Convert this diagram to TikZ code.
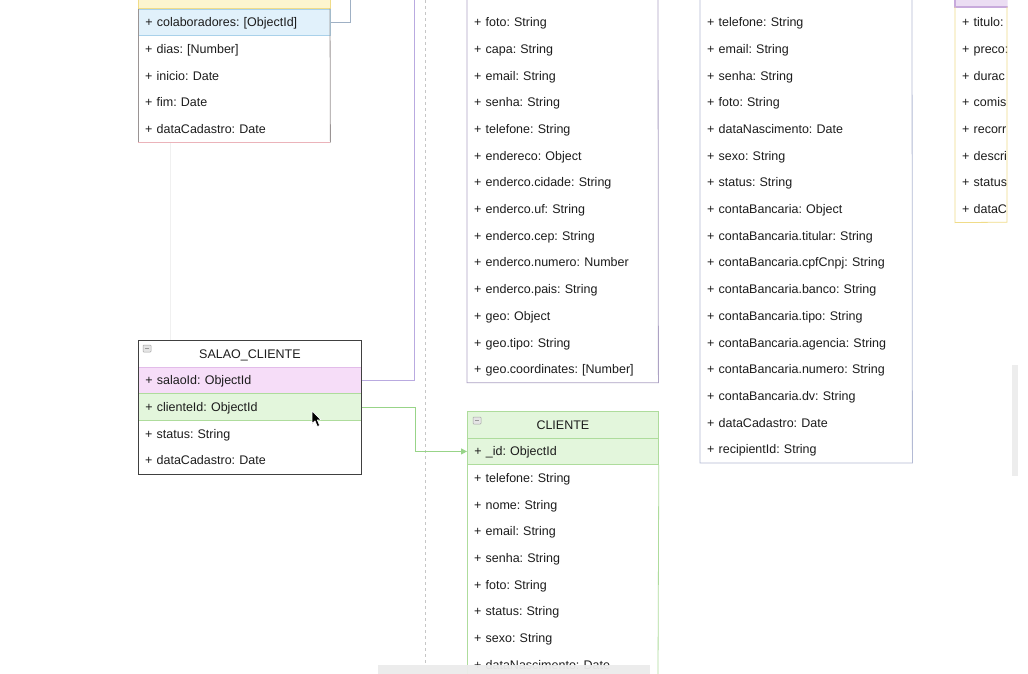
\documentclass[tikz,border=0pt]{standalone}
\usepackage{fontspec}
\setmainfont{Liberation Sans}
\frenchspacing
\usetikzlibrary{arrows.meta}
\definecolor{txt}{HTML}{1C1C1C}
\definecolor{horside}{HTML}{9A9494}
\definecolor{horbottom}{HTML}{EBB3BA}
\definecolor{bluefill}{HTML}{E1F1FB}
\definecolor{blueline}{HTML}{A9D1EA}
\definecolor{yellowfill}{HTML}{FDF5CF}
\definecolor{yellowline}{HTML}{F0DC88}
\definecolor{salaoline}{HTML}{ADA2C4}
\definecolor{colabline}{HTML}{B3BAD4}
\definecolor{lilacfill}{HTML}{EBDDF3}
\definecolor{lilacline}{HTML}{C8AADC}
\definecolor{pinkfill}{HTML}{F6DDF8}
\definecolor{pinkline}{HTML}{E2BCE9}
\definecolor{greenfill}{HTML}{E3F6DC}
\definecolor{greenline}{HTML}{AEDC9C}
\definecolor{purpleconn}{HTML}{B9AAE0}
\definecolor{greenconn}{HTML}{98D488}
\definecolor{blueconn}{HTML}{9FB0C4}
\tikzset{
  field/.style={anchor=north west, inner xsep=7pt, inner ysep=0pt, minimum height=26.7pt,
    text height=10.5pt, text depth=1.5pt, align=left, text=txt, font=\fontsize{12.5}{14}\selectfont},
  title/.style={field, align=center},
  frame/.style={line width=0.8pt},
  minusbox/.style={draw=gray!70, fill=gray!20, line width=0.5pt, rounded corners=0.8pt},
  conn/.style={line width=1pt}
}
\begin{document}
\begin{tikzpicture}[x=1pt, y=-1pt]
   \useasboundingbox (0,0) rectangle (1028,674);
   \clip (0,0) rectangle (1028,674);
   \fill[white] (0,0) rectangle (1028,674);
   \draw[gray!12, line width=0.6pt] (170,142) -- (170,340);
   \draw[gray!45, dashed, dash pattern=on 3pt off 3pt, line width=0.6pt] (425,0) -- (425,664);
   \fill[gray!14] (1012,365) rectangle (1018,476);

   \filldraw[fill=yellowfill, draw=yellowline, frame] (138,-10) rectangle (330,8.6);
   \node[field, text width=178pt, fill=bluefill, draw=blueline, frame] (hor1) at (138,8.6) {+ colaboradores: [ObjectId]};
   \foreach \f [count=\i from 2] in {+ dias: [Number], + inicio: Date, + fim: Date, + dataCadastro: Date} {
      \node[field, text width=178pt] (hor\i) at (138, {8.6+(\i-1)*26.7}) {\f};
   }
   \draw[horside, frame] (138,8.6) -- (hor5.south west);
   \draw[horside, frame] (330,8.6) -- (hor5.south east);
   \draw[horbottom, frame] (hor5.south west) -- (hor5.south east);
   \coordinate (horTop) at (350,-5);
   \draw[blueconn, conn] (hor1.east) -| (horTop);

   \foreach \f [count=\i] in {+ foto: String, + capa: String, + email: String, + senha: String,
      + telefone: String, + endereco: Object, + enderco.cidade: String, + enderco.uf: String,
      + enderco.cep: String, + enderco.numero: Number, + enderco.pais: String, + geo: Object,
      + geo.tipo: String, + geo.coordinates: [Number]} {
      \node[field, text width=177pt] (sal\i) at (467, {8.6+(\i-1)*26.7}) {\f};
   }
   \draw[salaoline, frame] (467,-10) -- (sal14.south west) -- (sal14.south east) -- (658,-10);

   \foreach \f [count=\i] in {+ telefone: String, + email: String, + senha: String, + foto: String,
      + dataNascimento: Date, + sexo: String, + status: String, + contaBancaria: Object,
      + contaBancaria.titular: String, + contaBancaria.cpfCnpj: String, + contaBancaria.banco: String,
      + contaBancaria.tipo: String, + contaBancaria.agencia: String, + contaBancaria.numero: String,
      + contaBancaria.dv: String, + dataCadastro: Date, + recipientId: String} {
      \node[field, text width=198pt] (col\i) at (700, {8.6+(\i-1)*26.7}) {\f};
   }
   \draw[colabline, frame] (700,-10) -- (col17.south west) -- (col17.south east) -- (912,-10);

   \begin{scope}
      \clip (954,0) rectangle (1007.5,674);
      \filldraw[fill=lilacfill, draw=lilacline, line width=1.2pt] (955,-10) rectangle (1040,7);
      \foreach \f [count=\i] in {+ titulo:, + preco:, + durac, + comis, + recorr, + descri, + status, + dataC} {
         \node[field, text width=60pt] (ser\i) at (955, {8.6+(\i-1)*26.7}) {\f};
      }
      \draw[yellowline, frame] (955,7) -- (ser8.south west) -- (1007,222.2) -- (1007,7);
   \end{scope}

   \node[title, text width=209pt, draw=black!75, frame] (sc0) at (138,340) {SALAO\_CLIENTE};
   \node[field, text width=209pt, fill=pinkfill, draw=pinkline, frame] (sc1) at (138,366.7) {+ salaoId: ObjectId};
   \node[field, text width=209pt, fill=greenfill, draw=greenline, frame] (sc2) at (138,393.4) {+ clienteId: ObjectId};
   \node[field, text width=209pt] (sc3) at (138,420.1) {+ status: String};
   \node[field, text width=209pt] (sc4) at (138,446.8) {+ dataCadastro: Date};
   \draw[black!75, frame] (sc0.north west) rectangle (sc4.south east);
   \draw[minusbox] ([shift={(5,5)}]sc0.north west) rectangle ++(8,7);
   \draw[gray!80, line width=0.6pt] ([shift={(7,8.5)}]sc0.north west) -- ++(4,0);

   \node[title, text width=177pt, fill=greenfill, draw=greenline, frame] (cli0) at (467,411) {CLIENTE};
   \node[field, text width=177pt, fill=greenfill, draw=greenline, frame] (cli1) at (467,437.7) {+ \_id: ObjectId};
   \foreach \f [count=\i from 2] in {+ telefone: String, + nome: String, + email: String, + senha: String,
      + foto: String, + status: String, + sexo: String, + dataNascimento: Date} {
      \node[field, text width=177pt] (cli\i) at (467, {411+\i*26.7}) {\f};
   }
   \draw[greenline, frame] (cli1.south west) -- (467,674);
   \draw[greenline, frame] (cli1.south east) -- (658,674);
   \draw[minusbox] ([shift={(6,6)}]cli0.north west) rectangle ++(8,7);
   \draw[gray!80, line width=0.6pt] ([shift={(8,9.5)}]cli0.north west) -- ++(4,0);

   \coordinate (salaoTop) at (414,-5);
   \draw[purpleconn, conn] (sc1.east) -| (salaoTop);
   \draw[greenconn, conn, -{Triangle[length=6pt, width=6pt]}] (sc2.east) -- ++(54,0) |- (cli1.west);

   \filldraw[fill=black, draw=white, line width=0.6pt, line join=round] (312,411) -- (312,423.5) -- (315,420.8)
      -- (317.4,426.5) -- (319.6,425.5) -- (317.3,420) -- (321,419.8) -- cycle;
   \fill[gray!15, opacity=0.95] (378,665) rectangle (650,674);
\end{tikzpicture}
\end{document}
